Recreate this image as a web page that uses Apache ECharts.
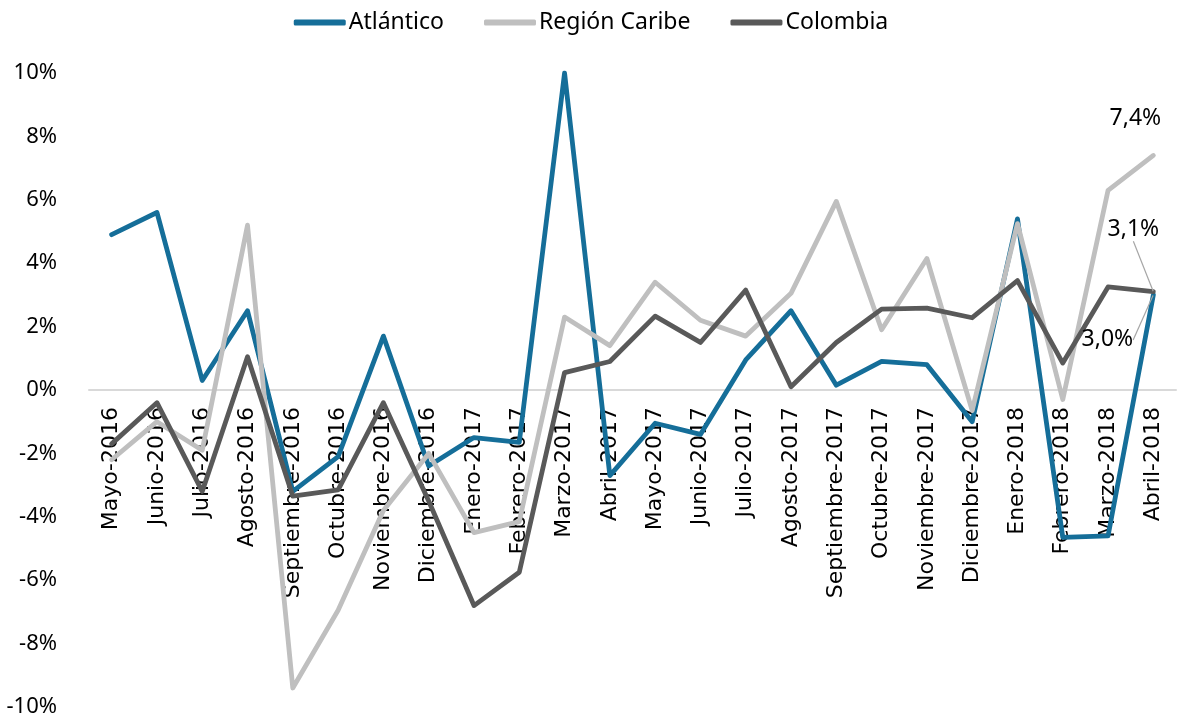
<!DOCTYPE html>
<html>
<head>
<meta charset="utf-8">
<script src="https://cdn.jsdelivr.net/npm/echarts@6/dist/echarts.min.js"></script>
<style>
html,body{margin:0;padding:0;background:#fff;}
#chart{width:1182px;height:719px;}
</style>
</head>
<body>
<div id="chart"></div>
<script>
const categories = ['Mayo-2016','Junio-2016','Julio-2016','Agosto-2016','Septiembre-2016','Octubre-2016','Noviembre-2016','Diciembre-2016','Enero-2017','Febrero-2017','Marzo-2017','Abril-2017','Mayo-2017','Junio-2017','Julio-2017','Agosto-2017','Septiembre-2017','Octubre-2017','Noviembre-2017','Diciembre-2017','Enero-2018','Febrero-2018','Marzo-2018','Abril-2018'];
const atlantico = [4.9, 5.6, 0.3, 2.5, -3.2, -2.1, 1.7, -2.4, -1.5, -1.65, 10.0, -2.7, -1.05, -1.4, 0.95, 2.5, 0.15, 0.9, 0.8, -1.0, 5.4, -4.65, -4.6, 3.0];
const caribe = [-2.2, -1.0, -1.9, 5.2, -9.4, -6.95, -3.8, -2.0, -4.5, -4.15, 2.3, 1.4, 3.4, 2.2, 1.7, 3.05, 5.95, 1.9, 4.15, -0.65, 5.25, -0.3, 6.3, 7.4];
const colombia = [-1.7, -0.4, -3.2, 1.05, -3.35, -3.15, -0.4, -3.5, -6.8, -5.75, 0.55, 0.9, 2.33, 1.5, 3.15, 0.1, 1.5, 2.55, 2.58, 2.28, 3.45, 0.85, 3.25, 3.1];
const yTicks = {min: -10, max: 10, interval: 2};

const FONT = '"Noto Sans", sans-serif';
const XFONT = '"DejaVu Sans", sans-serif';
const lastIdx = categories.length - 1;
function pct(v){ return v.toFixed(1).replace('.', ',') + '%'; }

function withEndLabel(arr, labelOpt){
  return arr.map((v, i) => i === lastIdx
    ? {value: v, symbol: 'circle', symbolSize: 1, label: Object.assign({show: true}, labelOpt)}
    : v);
}

function mkSeries(name, data, color, layout, lineShow){
  return {
    name: name,
    type: 'line',
    data: data,
    symbol: 'none',
    showSymbol: true,
    lineStyle: {color: color, width: 4.8, cap: 'round', join: 'round'},
    itemStyle: {color: color},
    label: {show: false, fontFamily: FONT, fontSize: 23, color: '#000', formatter: p => pct(p.value)},
    labelLayout: function(p){ if (p.dataIndex !== lastIdx) return {}; return layout; },
    labelLine: {show: lineShow, lineStyle: {color: '#a6a6a6', width: 1.2}},
    emphasis: {disabled: true},
    z: 2
  };
}

// category tick labels placed on the zero line (where the category axis crosses)
const catLabelSeries = {
  name: 'cats',
  type: 'scatter',
  data: categories.map(c => [c, 0]),
  symbolSize: 0,
  silent: true,
  z: 1,
  itemStyle: {color: 'transparent', opacity: 1},
  label: {
    show: true,
    position: 'bottom',
    distance: 17,
    rotate: 90,
    align: 'right',
    verticalAlign: 'middle',
    fontFamily: XFONT,
    fontSize: 22,
    color: '#000',
    opacity: 1,
    formatter: p => p.name || p.value[0]
  },
  labelLayout: {hideOverlap: false},
  emphasis: {disabled: true}
};

const chart = echarts.init(document.getElementById('chart'), null, {renderer: 'canvas'});
chart.setOption({
  animation: false,
  backgroundColor: '#fff',
  textStyle: {fontFamily: FONT},
  legend: {
    top: 6,
    left: 'center',
    itemWidth: 52,
    itemHeight: 6,
    itemGap: 40,
    icon: 'roundRect',
    textStyle: {fontFamily: FONT, fontSize: 23, color: '#000', padding: [0,0,0,-2]},
    data: ['Atlántico', 'Región Caribe', 'Colombia']
  },
  grid: {left: 89, right: 6, top: 73, bottom: 12, outerBoundsMode: 'none'},
  xAxis: {
    type: 'category',
    data: categories,
    boundaryGap: true,
    axisLine: {onZero: true, lineStyle: {color: '#d9d9d9', width: 2}},
    axisTick: {show: false},
    axisLabel: {show: false},
    splitLine: {show: false}
  },
  yAxis: {
    type: 'value',
    min: yTicks.min, max: yTicks.max, interval: yTicks.interval,
    axisLine: {show: false},
    axisTick: {show: false},
    splitLine: {show: false},
    axisLabel: {margin: 32, fontFamily: FONT, fontSize: 22, color: '#000', formatter: v => v + '%'}
  },
  series: [
    catLabelSeries,
    mkSeries('Atlántico', withEndLabel(atlantico, {position: 'bottom'}), '#156e99', {dx: -46, dy: 28}, true),
    mkSeries('Región Caribe', withEndLabel(caribe, {position: 'top'}), '#bfbfbf', {dx: -18, dy: -20}, false),
    mkSeries('Colombia', withEndLabel(colombia, {position: 'top'}), '#595959', {dx: -20, dy: -45}, true)
  ]
});
</script>
</body>
</html>
